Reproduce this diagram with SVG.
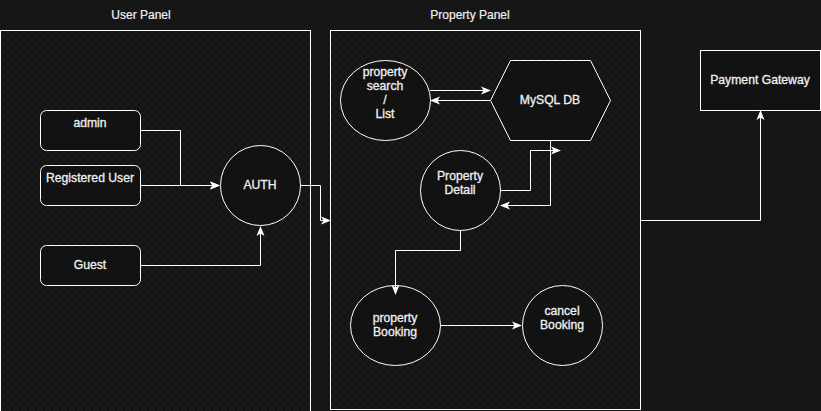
<svg xmlns="http://www.w3.org/2000/svg" width="821" height="411" viewBox="0 0 821 411">
<defs>
<pattern id="hatch" width="8" height="8" patternUnits="userSpaceOnUse">
<rect width="8" height="8" fill="#141414"/>
<path d="M0,0 L8,8 M8,0 L0,8" stroke="#1d1d1d" stroke-width="1"/>
</pattern>
<marker id="arr" markerWidth="10" markerHeight="10" refX="9" refY="5" orient="auto" markerUnits="userSpaceOnUse">
<path d="M0,1 L10,5 L0,9 L2.5,5 Z" fill="#ffffff"/>
</marker>
<style>
.t{font-family:"Liberation Sans",Arial,sans-serif;font-size:12.2px;fill:#f0f0f0;stroke:#f0f0f0;stroke-width:0.3px;text-anchor:middle;dominant-baseline:central}
.tl{font-family:"Liberation Sans",Arial,sans-serif;font-size:12px;fill:#f0f0f0;stroke:#f0f0f0;stroke-width:0.2px;text-anchor:middle;dominant-baseline:central}
.n{fill:#121212;stroke:#ffffff;stroke-width:1}
.c{fill:none;stroke:#ffffff;stroke-width:1;marker-end:url(#arr)}
.p{fill:url(#hatch);stroke:#ffffff;stroke-width:1}
</style>
</defs>
<rect width="821" height="411" fill="#161616"/>

<g id="user-panel">
<rect class="p" x="0.5" y="30.5" width="310" height="390"/>
<text class="tl" x="141" y="15">User Panel</text>
</g>
<g id="property-panel">
<rect class="p" x="330.5" y="30.5" width="310" height="379"/>
<text class="tl" x="470" y="15">Property Panel</text>
</g>

<g id="admin">
<rect class="n" x="40.5" y="110.5" width="100" height="40" rx="6"/>
<text class="t" x="90" y="123">admin</text>
</g>
<g id="registered-user">
<rect class="n" x="40.5" y="165.5" width="100" height="40" rx="6"/>
<text class="t" x="90" y="178">Registered User</text>
</g>
<g id="guest">
<rect class="n" x="40.5" y="245.5" width="100" height="40" rx="6"/>
<text class="t" x="90" y="265">Guest</text>
</g>
<g id="auth">
<circle class="n" cx="260.5" cy="185.5" r="40"/>
<text class="t" x="260" y="185">AUTH</text>
</g>
<g id="property-search">
<ellipse class="n" cx="385.5" cy="100.5" rx="45" ry="40"/>
<text class="t" x="385" y="72">property</text>
<text class="t" x="385" y="86">search</text>
<text class="t" x="385" y="100">/</text>
<text class="t" x="385" y="114">List</text>
</g>
<g id="mysql-db">
<polygon class="n" points="510.5,60.5 590.5,60.5 610.5,100.5 590.5,140.5 510.5,140.5 490.5,100.5"/>
<text class="t" x="550" y="100">MySQL DB</text>
</g>
<g id="property-detail">
<circle class="n" cx="460.5" cy="190.5" r="40"/>
<text class="t" x="460" y="176">Property</text>
<text class="t" x="460" y="190">Detail</text>
</g>
<g id="property-booking">
<ellipse class="n" cx="395.5" cy="325.5" rx="45" ry="40"/>
<text class="t" x="395" y="318">property</text>
<text class="t" x="395" y="332">Booking</text>
</g>
<g id="cancel-booking">
<circle class="n" cx="562.5" cy="325.5" r="40"/>
<text class="t" x="562" y="311">cancel</text>
<text class="t" x="562" y="325">Booking</text>
</g>
<g id="payment-gateway">
<rect class="n" x="700.5" y="50.5" width="120" height="60"/>
<text class="t" x="760" y="80">Payment Gateway</text>
</g>

<g id="connectors">
<path class="c" d="M140,130.5 H180.5 V185.5 H219"/>
<path class="c" d="M140,185.5 H219"/>
<path class="c" d="M140,265.5 H260.5 V227"/>
<path class="c" d="M300,185.5 H320.5 V220.5 H330"/>
<path class="c" d="M430,90.5 H490"/>
<path class="c" d="M490,100.5 H431"/>
<path class="c" d="M500,190.5 H530.5 V150.5 H560"/>
<path class="c" d="M550.5,140 V205.5 H501"/>
<path class="c" d="M460.5,230 V250.5 H395.5 V294"/>
<path class="c" d="M440,325.5 H521"/>
<path class="c" d="M640,220.5 H760.5 V111"/>
</g>
</svg>
